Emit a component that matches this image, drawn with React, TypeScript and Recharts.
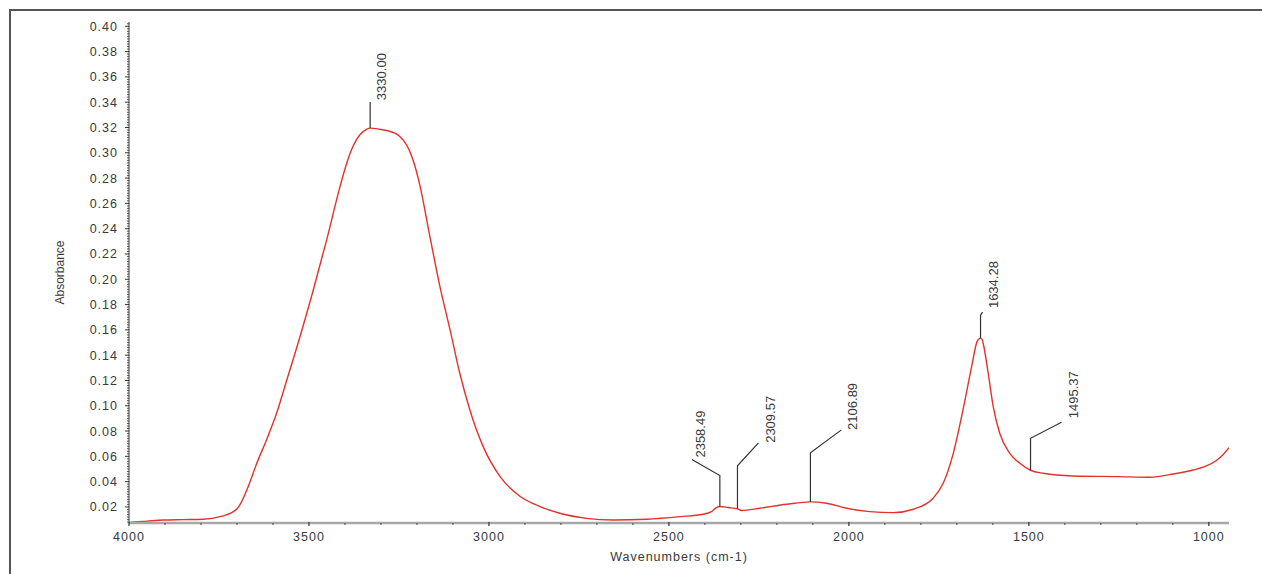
import React from 'react';
import { LineChart, Line, XAxis, YAxis, ReferenceDot } from 'recharts';

// ---- data ----
const wavenumbers = [
  4000, 3993, 3950, 3905, 3850, 3794, 3747, 3710, 3701, 3692, 3669, 3645, 3618, 3590, 3562, 3525,
  3488, 3451, 3414, 3396, 3377, 3358, 3340, 3330, 3305, 3284, 3262, 3247, 3235, 3222, 3210, 3192,
  3164, 3136, 3108, 3081, 3053, 3016, 2969, 2914, 2858, 2803, 2729, 2655, 2562, 2469, 2405, 2382,
  2368, 2358.49, 2335, 2309.57, 2298, 2247, 2173, 2106.89, 2062, 2006, 1942, 1877, 1821, 1766,
  1738, 1710, 1683, 1659, 1644, 1639, 1634.28, 1630, 1627, 1613, 1599, 1581, 1553, 1525, 1495.37,
  1460, 1377, 1256, 1164, 1099, 1044, 1010, 980, 960, 944,
];
const absorbance = [
  0.0075, 0.0079, 0.0088, 0.0097, 0.0100, 0.0103, 0.0123, 0.0163, 0.0182, 0.0216, 0.036, 0.0545,
  0.073, 0.094, 0.120, 0.1546, 0.1915, 0.231, 0.273, 0.291, 0.3055, 0.3145, 0.3186, 0.3195,
  0.3187, 0.3176, 0.3155, 0.3127, 0.3088, 0.3025, 0.2935, 0.2745, 0.2337, 0.194, 0.160, 0.1257,
  0.0967, 0.0677, 0.044, 0.0285, 0.0203, 0.015, 0.011, 0.0097, 0.0103, 0.0123, 0.0142, 0.0163,
  0.0195, 0.0203, 0.0195, 0.0185, 0.0172, 0.019, 0.0221, 0.024, 0.0229, 0.019, 0.0163, 0.0155,
  0.0182, 0.0269, 0.0387, 0.0624, 0.0967, 0.131, 0.1507, 0.1528, 0.1535, 0.1525, 0.1494, 0.1257,
  0.0993, 0.0783, 0.0624, 0.0545, 0.049, 0.0466, 0.0445, 0.044, 0.0435, 0.046, 0.0492, 0.052,
  0.0565, 0.0615, 0.0668,
];

const xMajorTicks = [4000, 3500, 3000, 2500, 2000, 1500, 1000];
const yMajorTicks = [
  0.02, 0.04, 0.06, 0.08, 0.1, 0.12, 0.14, 0.16, 0.18, 0.2, 0.22, 0.24, 0.26, 0.28, 0.3, 0.32,
  0.34, 0.36, 0.38, 0.4,
];
const peakWavenumbers = [3330.0, 2358.49, 2309.57, 2106.89, 1634.28, 1495.37];
const peakLabels = ['3330.00', '2358.49', '2309.57', '2106.89', '1634.28', '1495.37'];

// leader styling per peak (pixels): rise, diagonal dx, diagonal dy, text offset, text gap
const leaderStyles = [
  { rise: 26, dx: 0, dy: 0, tx: 11, gap: 2 },
  { rise: 31, dx: -28, dy: 16, tx: 8, gap: 2 },
  { rise: 43, dx: 21, dy: 23, tx: 12, gap: 0 },
  { rise: 49, dx: 31, dy: 23, tx: 11, gap: 0 },
  { rise: 23, dx: 2, dy: 3, tx: 11, gap: 4 },
  { rise: 32, dx: 31, dy: 16, tx: 12, gap: 4 },
];

const data = wavenumbers.map((w, i) => ({ wn: w, abs: absorbance[i] }));

const xTicks: number[] = [];
for (let v = 4000; v >= 1000; v -= 100) xTicks.push(v);
const yTicks: number[] = [];
for (let i = 4; i <= 201; i++) yTicks.push(Math.round(i * 2) / 1000);

const FONT = '"Liberation Sans", Arial, sans-serif';
const TEXT = '#3a3a3a';

const isYMajor = (v: number) => yMajorTicks.some((m) => Math.abs(m - v) < 1e-6);

const YTick = (props: any) => {
  const { x, y, payload } = props;
  const v = payload.value;
  if (isYMajor(v)) {
    return (
      <g>
        <line x1={x - 4} x2={x} y1={y} y2={y} stroke="#333" strokeWidth={1} />
        <text
          x={x - 11}
          y={y}
          dy="0.36em"
          textAnchor="end"
          fontFamily={FONT}
          fontSize={12.5}
          letterSpacing={1}
          fill={TEXT}
        >
          {v.toFixed(2)}
        </text>
      </g>
    );
  }
  return <line x1={x - 2} x2={x} y1={y} y2={y} stroke="#555" strokeWidth={1} />;
};

const XTick = (props: any) => {
  const { x, y, payload } = props;
  const v = payload.value;
  if (xMajorTicks.includes(v)) {
    return (
      <g>
        <line x1={x} x2={x} y1={y - 1} y2={y + 3} stroke="#333" strokeWidth={1.2} />
        <text
          x={x}
          y={y + 18}
          textAnchor="middle"
          fontFamily={FONT}
          fontSize={12.5}
          letterSpacing={1}
          fill={TEXT}
        >
          {String(v)}
        </text>
      </g>
    );
  }
  return <line x1={x} x2={x} y1={y} y2={y + 2} stroke="#444" strokeWidth={1} />;
};

const PeakMarker = (props: any) => {
  const { cx, cy, idx } = props;
  if (cx == null || cy == null) return null;
  const s = leaderStyles[idx];
  const topY = cy - s.rise;
  const ex = cx + s.dx;
  const ey = topY - s.dy;
  const tx = ex + s.tx;
  const ty = ey - s.gap;
  return (
    <g>
      <polyline
        points={`${cx},${cy} ${cx},${topY} ${ex},${ey}`}
        fill="none"
        stroke="#333"
        strokeWidth={1.2}
      />
      <text
        x={tx}
        y={ty}
        dy="0.36em"
        transform={`rotate(-90 ${tx} ${ty})`}
        textAnchor="start"
        fontFamily={FONT}
        fontSize={13}
        fill={TEXT}
      >
        {peakLabels[idx]}
      </text>
    </g>
  );
};

export default function App() {
  return (
    <div
      style={{
        position: 'absolute',
        left: 0,
        top: 0,
        width: 1262,
        height: 574,
        overflow: 'hidden',
        background: '#fff',
      }}
    >
      <div
        style={{
          position: 'absolute',
          left: 9,
          top: 9,
          width: 1400,
          height: 700,
          borderLeft: '2px solid #555',
          borderTop: '2px solid #555',
        }}
      />
      <div style={{ position: 'absolute', left: 0, top: 0 }}>
        <LineChart
          width={1262}
          height={574}
          data={data}
          margin={{ top: 22, right: 33, left: 59, bottom: 11 }}
        >
          <XAxis
            dataKey="wn"
            type="number"
            domain={[944, 4000]}
            reversed
            allowDataOverflow
            ticks={xTicks}
            interval={0}
            tick={XTick}
            tickLine={false}
            tickSize={0}
            tickMargin={0}
            height={40}
            axisLine={{ stroke: '#a8a8a8', strokeWidth: 2.5 }}
            label={{
              value: 'Wavenumbers (cm-1)',
              position: 'insideBottom',
              offset: 2,
              style: { fontFamily: FONT, fontSize: 12.5, letterSpacing: 1, fill: TEXT },
            }}
          />
          <YAxis
            type="number"
            domain={[0.0073, 0.4034]}
            allowDataOverflow
            ticks={yTicks}
            interval={0}
            tick={YTick}
            tickLine={false}
            tickSize={0}
            tickMargin={0}
            width={70}
            axisLine={{ stroke: '#333', strokeWidth: 1 }}
            label={{
              value: 'Absorbance',
              angle: -90,
              position: 'insideLeft',
              offset: 1,
              style: { fontFamily: FONT, fontSize: 12, fill: TEXT, textAnchor: 'middle' },
            }}
          />
          <Line
            type="monotone"
            dataKey="abs"
            stroke="#e3322c"
            strokeWidth={1.4}
            dot={false}
            activeDot={false}
            isAnimationActive={false}
          />
          {peakWavenumbers.map((w, i) => (
            <ReferenceDot
              key={peakLabels[i]}
              x={w}
              y={absorbance[wavenumbers.indexOf(w)]}
              r={0}
              ifOverflow="visible"
              shape={(p: any) => <PeakMarker {...p} idx={i} />}
            />
          ))}
        </LineChart>
      </div>
    </div>
  );
}
